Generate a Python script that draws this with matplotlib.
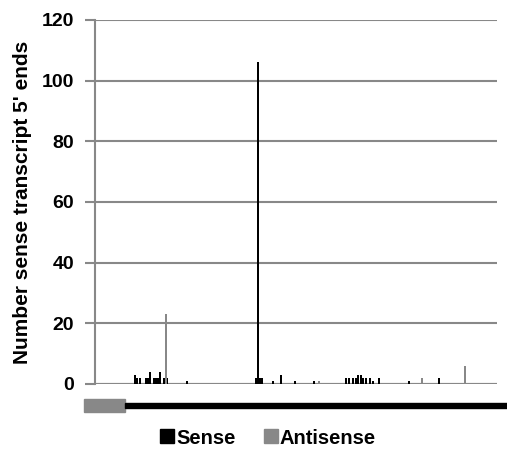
import matplotlib.pyplot as plt
from matplotlib.patches import Rectangle
from matplotlib.lines import Line2D

plt.rcParams['font.family'] = ['Liberation Sans', 'DejaVu Sans']
plt.rcParams['font.weight'] = 'bold'

# positions along the transcript (chart units) and counts of 5' ends
sense_pos = [40, 42, 45, 51, 53, 55, 59, 61, 63, 65, 69, 72, 92,
             161, 163, 165, 167, 178, 186, 200, 219,
             251, 254, 258, 261, 263, 266, 268, 271, 275, 278, 284, 314, 344]
sense_val = [3, 2, 2, 2, 2, 4, 2, 2, 2, 4, 2, 2, 1,
             2, 106, 2, 2, 1, 3, 1, 1,
             2, 2, 2, 2, 3, 3, 2, 2, 2, 1, 2, 1, 2]
antisense_pos = [71, 224, 327, 370]
antisense_val = [23, 1, 2, 6]

# gene diagram under the axis: (start, end)
utr_span = (-11, 30)
cds_span = (30, 412)

x_max = 402
yticks = [0, 20, 40, 60, 80, 100, 120]

GRAY = '#888888'

fig = plt.figure(figsize=(5.07, 4.51), dpi=100)
ax = fig.add_axes([95/507, 67/451, 402/507, 364/451])

ax.bar(sense_pos, sense_val, width=1.8, color='black', zorder=3)
ax.bar(antisense_pos, antisense_val, width=1.8, color=GRAY, zorder=3)

ax.set_xlim(0, x_max)
ax.set_ylim(0, 120)
ax.set_yticks(yticks)
ax.set_xticks([])
ax.yaxis.grid(True, color=GRAY, linewidth=1.5)
ax.set_axisbelow(True)
for s in ['top', 'right', 'bottom']:
    ax.spines[s].set_visible(False)
ax.spines['left'].set_color(GRAY)
ax.spines['left'].set_linewidth(1.5)
ax.tick_params(axis='y', direction='out', length=7, width=1.5, color=GRAY,
               labelsize=14, pad=8)
ax.axhline(0, color=GRAY, linewidth=1.5, zorder=2)
ax.set_ylabel("Number sense transcript 5' ends", fontsize=15, fontweight='bold',
              labelpad=7)

# gene diagram
gx = fig.add_axes([95/507, 39/451, 402/507, 13/451])
gx.set_xlim(0, x_max)
gx.set_ylim(0, 1)
gx.axis('off')
gx.add_patch(Rectangle((utr_span[0], 0), utr_span[1] - utr_span[0], 1,
                       color=GRAY, clip_on=False))
gx.add_patch(Rectangle((cds_span[0], 0.3), cds_span[1] - cds_span[0], 0.4,
                       color='black', clip_on=False))

handles = [Line2D([], [], marker='s', linestyle='none', color='black', markersize=10),
           Line2D([], [], marker='s', linestyle='none', color=GRAY, markersize=10)]
fig.legend(handles, ['Sense', 'Antisense'], loc='center', ncol=2,
           bbox_to_anchor=(267/507, 1 - 438/451), frameon=False,
           fontsize=14.5, handletextpad=0.0, columnspacing=1.3, handlelength=0.9)

fig.savefig('out.png', dpi=100)
